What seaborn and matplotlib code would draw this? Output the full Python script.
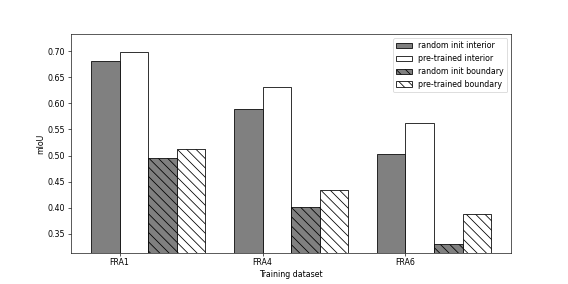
import pandas as pd
import matplotlib
matplotlib.use("Agg")
import matplotlib.pyplot as plt
from matplotlib.patches import Patch
import seaborn as sns

datasets = ["FRA1", "FRA4", "FRA6"]
series = ["random init interior", "pre-trained interior",
          "random init boundary", "pre-trained boundary"]
rand_interior = [0.681, 0.589, 0.502]
pre_interior = [0.698, 0.632, 0.563]
rand_boundary = [0.495, 0.401, 0.330]
pre_boundary = [0.513, 0.434, 0.387]

colors = ["grey", "white", "grey", "white"]
hatches = ["", "", "\\\\", "\\\\"]

rows = []
for name, vals in zip(series, [rand_interior, pre_interior, rand_boundary, pre_boundary]):
    for d, v in zip(datasets, vals):
        rows.append({"dataset": d, "series": name, "miou": v})
df = pd.DataFrame(rows)

fig, ax = plt.subplots(figsize=(10, 5), dpi=56.8)
sns.barplot(data=df, x="dataset", y="miou", hue="series", hue_order=series,
            palette=colors, saturation=1, edgecolor="black", linewidth=1,
            errorbar=None, legend=False, ax=ax)

for cont, h in zip(ax.containers, hatches):
    for p in cont:
        p.set_hatch(h)

allv = rand_interior + pre_interior + rand_boundary + pre_boundary
ax.set_ylim(min(allv) * 0.95, max(allv) * 1.05)
ax.set_xlim(-0.54, 2.54)
ax.set_xticks([i - 0.2 for i in range(len(datasets))])
ax.set_xticklabels(datasets)
ax.set_xlabel("Training dataset")
ax.set_ylabel("mIoU")

handles = [Patch(facecolor=c, edgecolor="black", hatch=h, label=s)
           for c, h, s in zip(colors, hatches, series)]
ax.legend(handles=handles, loc="upper right")

plt.savefig("out.png", dpi=56.8)
